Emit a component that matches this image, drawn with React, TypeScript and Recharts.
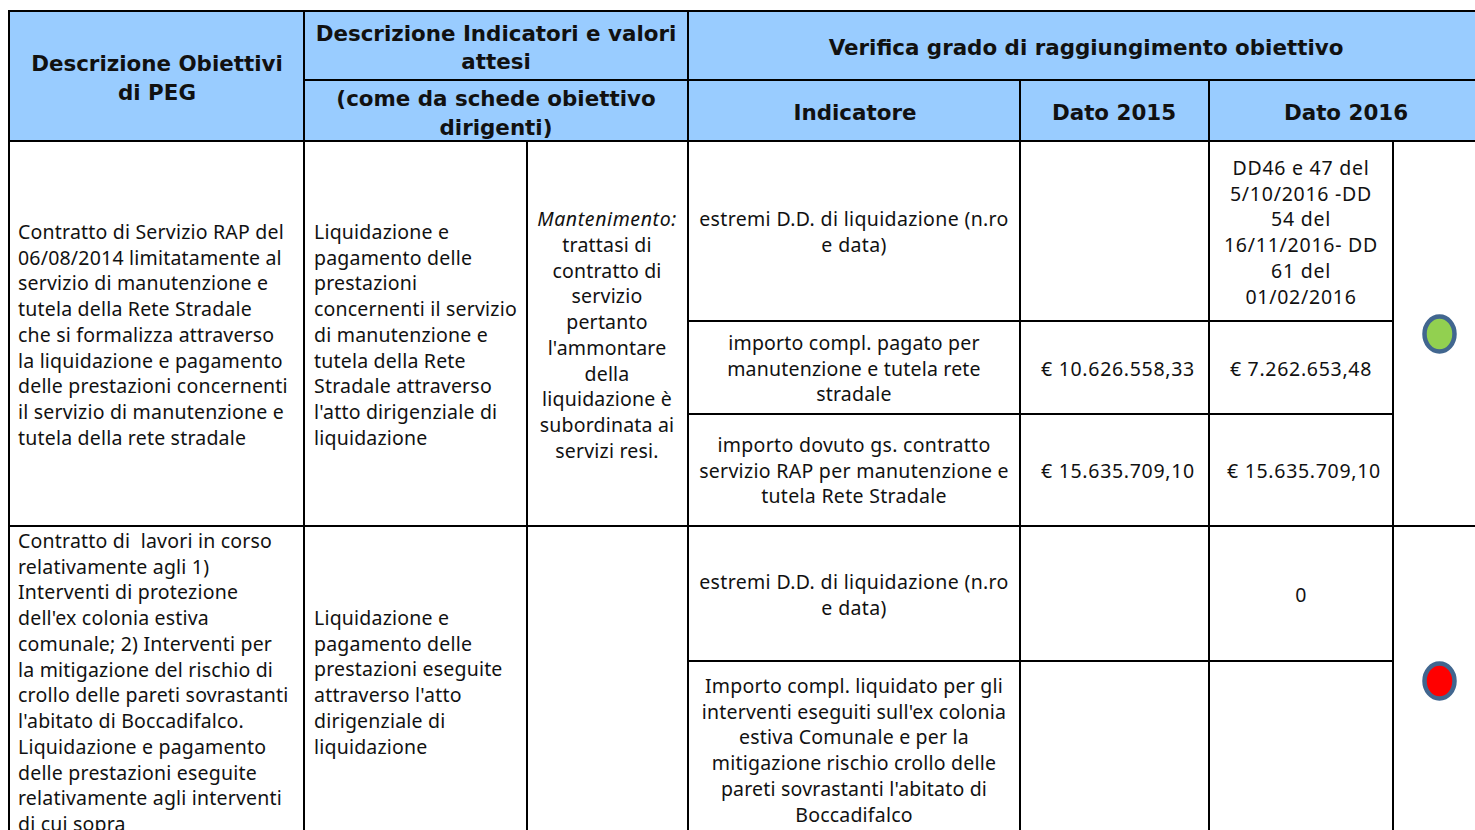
import { ComposedChart, XAxis, YAxis, Scatter, ReferenceArea, ReferenceLine } from 'recharts'

// table content, one string per printed line
const headObjective = ['Descrizione Obiettivi', 'di PEG']
const headIndicators = ['Descrizione Indicatori e valori', 'attesi']
const headSheets = ['(come da schede obiettivo', 'dirigenti)']
const headCheck = ['Verifica grado di raggiungimento obiettivo']
const headIndicator = ['Indicatore']
const head2015 = ['Dato 2015']
const head2016 = ['Dato 2016']

const objectiveRap = [
  'Contratto di Servizio RAP del',
  '06/08/2014 limitatamente al',
  'servizio di manutenzione e',
  'tutela della Rete Stradale',
  'che si formalizza attraverso',
  'la liquidazione e pagamento',
  'delle prestazioni concernenti',
  'il servizio di manutenzione e',
  'tutela della rete stradale',
]
const expectedRap = [
  'Liquidazione e',
  'pagamento delle',
  'prestazioni',
  'concernenti il servizio',
  'di manutenzione e',
  'tutela della Rete',
  'Stradale attraverso',
  "l'atto dirigenziale di",
  'liquidazione',
]
const maintenance = [
  'trattasi di',
  'contratto di',
  'servizio',
  'pertanto',
  "l'ammontare",
  'della',
  'liquidazione è',
  'subordinata ai',
  'servizi resi.',
]
const ddReference = ['estremi D.D. di liquidazione (n.ro', 'e data)']
const amountPaid = ['importo compl. pagato per', 'manutenzione e tutela rete', 'stradale']
const amountDue = ['importo dovuto gs. contratto', 'servizio RAP per manutenzione e', 'tutela Rete Stradale']
const dd2016 = ['DD46 e 47 del', '5/10/2016 -DD', '54 del', '16/11/2016- DD', '61 del', '01/02/2016']
const paid2015 = ['€ 10.626.558,33']
const paid2016 = ['€ 7.262.653,48']
const due2015 = ['€ 15.635.709,10']
const due2016 = ['€ 15.635.709,10']

const objectiveWorks = [
  'Contratto di  lavori in corso',
  'relativamente agli 1)',
  'Interventi di protezione',
  "dell'ex colonia estiva",
  'comunale; 2) Interventi per',
  'la mitigazione del rischio di',
  'crollo delle pareti sovrastanti',
  "l'abitato di Boccadifalco.",
  'Liquidazione e pagamento',
  'delle prestazioni eseguite',
  'relativamente agli interventi',
  'di cui sopra',
]
const expectedWorks = [
  'Liquidazione e',
  'pagamento delle',
  'prestazioni eseguite',
  "attraverso l'atto",
  'dirigenziale di',
  'liquidazione',
]
const amountWorks = [
  'Importo compl. liquidato per gli',
  "interventi eseguiti sull'ex colonia",
  'estiva Comunale e per la',
  'mitigazione rischio crollo delle',
  "pareti sovrastanti l'abitato di",
  'Boccadifalco',
]
const dd2016Works = ['0']

const statuses = ['#92D050', '#FF0000']

// layout of the sheet, in page pixels
const W = 1475
const H = 830
const LINE = 25.75
const BODY = { fontFamily: '"Noto Sans", sans-serif', fontSize: 19.5, fill: '#111', letterSpacing: 0.2 }
const HEAD = { fontFamily: '"DejaVu Sans", sans-serif', fontSize: 21.4, fontWeight: 700, fill: '#111' }

const colX = [9, 304, 527, 688, 1020, 1209, 1393]
const statusY = [334, 681]

const rules = [
  // horizontals
  [8, 11, W, 11], [304, 80, W, 80], [8, 141, W, 141],
  [688, 321, 1393, 321], [688, 414, 1393, 414], [8, 526, W, 526], [688, 661, 1393, 661],
  // verticals
  [colX[0], 10, colX[0], H], [colX[1], 11, colX[1], H], [colX[2], 141, colX[2], H],
  [colX[3], 11, colX[3], H], [colX[4], 80, colX[4], H], [colX[5], 80, colX[5], H],
  [colX[6], 141, colX[6], H],
]

type Block = {
  lines: string[]
  x: number
  y: number
  anchor?: 'start' | 'middle'
  head?: boolean
  gap?: number
  spacing?: number
}

const blocks: Block[] = [
  { lines: headObjective, x: 157, y: 64, anchor: 'middle', head: true, gap: 29 },
  { lines: headIndicators, x: 496, y: 34, anchor: 'middle', head: true, gap: 28 },
  { lines: headSheets, x: 496, y: 99, anchor: 'middle', head: true, gap: 29 },
  { lines: headCheck, x: 1086, y: 48, anchor: 'middle', head: true },
  { lines: headIndicator, x: 855, y: 113, anchor: 'middle', head: true },
  { lines: head2015, x: 1114, y: 113, anchor: 'middle', head: true },
  { lines: head2016, x: 1346, y: 113, anchor: 'middle', head: true },
  { lines: objectiveRap, x: 18, y: 232 },
  { lines: expectedRap, x: 314, y: 232 },
  { lines: maintenance, x: 607, y: 245, anchor: 'middle' },
  { lines: ddReference, x: 854, y: 219, anchor: 'middle', spacing: 0.35 },
  { lines: amountPaid, x: 854, y: 343, anchor: 'middle' },
  { lines: amountDue, x: 854, y: 445, anchor: 'middle', spacing: 0.3 },
  { lines: dd2016, x: 1301, y: 168, anchor: 'middle', spacing: 0.75 },
  { lines: paid2015, x: 1118, y: 369, anchor: 'middle', spacing: 0.7 },
  { lines: paid2016, x: 1301, y: 369, anchor: 'middle', spacing: 0.7 },
  { lines: due2015, x: 1118, y: 471, anchor: 'middle', spacing: 0.7 },
  { lines: due2016, x: 1304, y: 471, anchor: 'middle', spacing: 0.7 },
  { lines: objectiveWorks, x: 18, y: 541 },
  { lines: expectedWorks, x: 314, y: 618 },
  { lines: ddReference, x: 854, y: 582, anchor: 'middle', spacing: 0.35 },
  { lines: dd2016Works, x: 1301, y: 595, anchor: 'middle' },
  { lines: amountWorks, x: 854, y: 686, anchor: 'middle' },
]

const textPoints: any[] = blocks.flatMap((b) =>
  b.lines.map((text, i) => ({
    x: b.x,
    y: b.y + i * (b.gap ?? LINE),
    text,
    anchor: b.anchor ?? 'start',
    head: !!b.head,
    spacing: b.spacing,
  })),
)
textPoints.push({ x: 607, y: 219, text: 'Mantenimento:', anchor: 'middle', head: false, italic: true, spacing: 0.6 })

const statusPoints = statuses.map((color, i) => ({ x: 1439.5, y: statusY[i], color }))

const TextLine = (props: any) => {
  const { cx, cy, payload } = props
  const style = payload.head ? HEAD : BODY
  return (
    <text
      x={cx}
      y={cy}
      dy="0.35em"
      textAnchor={payload.anchor}
      fontStyle={payload.italic ? 'italic' : 'normal'}
      xmlSpace="preserve"
      {...style}
      letterSpacing={payload.spacing ?? (style as any).letterSpacing}
    >
      {payload.text}
    </text>
  )
}

const StatusDot = (props: any) => {
  const { cx, cy, payload } = props
  return <ellipse cx={cx} cy={cy} rx={15} ry={17.5} fill={payload.color} stroke="#41668F" strokeWidth={4.5} />
}

export default function App() {
  return (
    <div style={{ position: 'fixed', left: 0, top: 0, width: W, height: H, overflow: 'hidden', background: '#fff' }}>
      <ComposedChart width={W} height={H} margin={{ top: 0, right: 0, bottom: 0, left: 0 }} data={[]}>
        <XAxis type="number" dataKey="x" domain={[0, W]} hide />
        <YAxis type="number" dataKey="y" domain={[0, H]} reversed hide />
        <ReferenceArea x1={8} x2={W} y1={11} y2={141} fill="#99CCFF" fillOpacity={1} stroke="none" ifOverflow="visible" />
        {rules.map(([x1, y1, x2, y2], i) => (
          <ReferenceLine
            key={i}
            segment={[{ x: x1, y: y1 }, { x: x2, y: y2 }]}
            stroke="#000"
            strokeWidth={2}
            ifOverflow="visible"
          />
        ))}
        <Scatter data={textPoints} shape={TextLine} isAnimationActive={false} />
        <Scatter data={statusPoints} shape={StatusDot} isAnimationActive={false} />
      </ComposedChart>
    </div>
  )
}
